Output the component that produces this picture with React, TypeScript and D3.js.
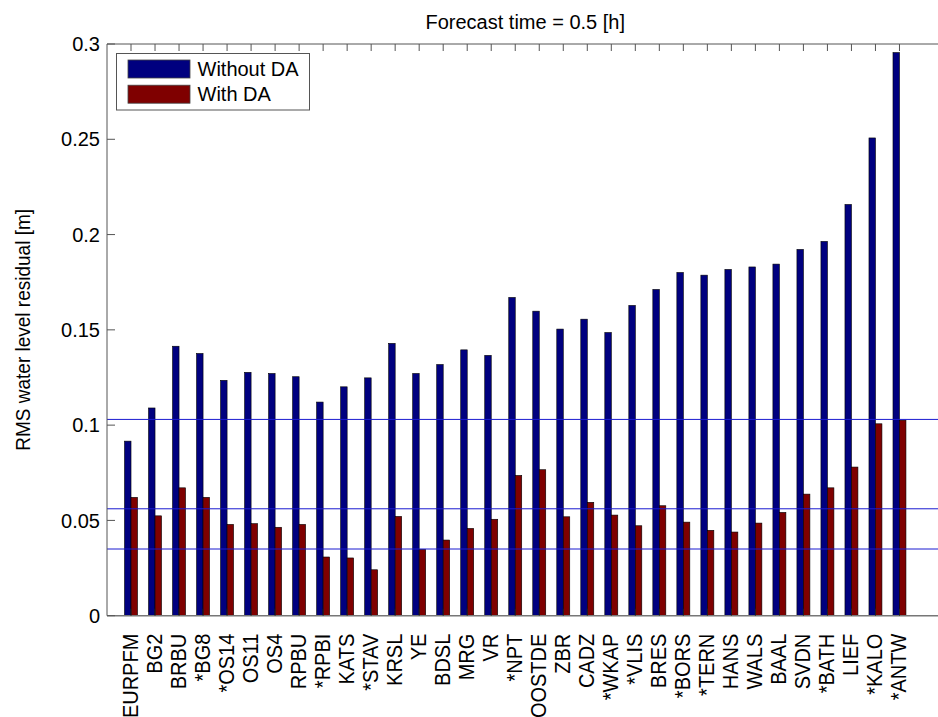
import React, { useEffect, useRef } from "react";
import * as d3 from "d3";

const stations = [
  "EURPFM", "BG2", "BRBU", "*BG8", "*OS14", "OS11", "OS4", "RPBU", "*RPBI", "KATS", "*STAV",
  "KRSL", "YE", "BDSL", "MRG", "VR", "*NPT", "OOSTDE", "ZBR", "CADZ", "*WKAP", "*VLIS",
  "BRES", "*BORS", "*TERN", "HANS", "WALS", "BAAL", "SVDN", "*BATH", "LIEF", "*KALO", "*ANTW",
];
const withoutDA = [
  0.0916, 0.109, 0.1414, 0.1376, 0.1235, 0.1277, 0.1271, 0.1254, 0.1121, 0.1201, 0.1248,
  0.1429, 0.1271, 0.1318, 0.1395, 0.1366, 0.167, 0.1598, 0.1504, 0.1556, 0.1486, 0.1628,
  0.1712, 0.1801, 0.1787, 0.1817, 0.183, 0.1845, 0.1922, 0.1964, 0.2158, 0.2507, 0.2955,
];
const withDA = [
  0.0621, 0.0524, 0.0671, 0.0621, 0.0479, 0.0483, 0.0464, 0.0479, 0.0308, 0.0303, 0.0241,
  0.0521, 0.0348, 0.0397, 0.0458, 0.0506, 0.0736, 0.0766, 0.0519, 0.0595, 0.0528, 0.0472,
  0.0577, 0.0491, 0.0448, 0.0439, 0.0486, 0.0542, 0.0638, 0.0671, 0.078, 0.1007, 0.1026,
];
const refLines = [0.103, 0.0561, 0.035];
const yTicks = [0, 0.05, 0.1, 0.15, 0.2, 0.25, 0.3];
const seriesNames = ["Without DA", "With DA"];
const seriesColors = ["#00007f", "#7f0000"];
const titleText = "Forecast time = 0.5 [h]";
const yLabel = "RMS water level residual [m]";

const W = 938;
const H = 717;

export default function App() {
  const ref = useRef<SVGSVGElement | null>(null);

  useEffect(() => {
    const svg = d3.select(ref.current);
    svg.selectAll("*").remove();
    const left = 107;
    const right = 947.5;
    const top = 44;
    const bottom = 615.7;
    const font = "Arial, 'Liberation Sans', sans-serif";

    const x = d3.scaleLinear().domain([0, 35]).range([left, right]);
    const y = d3.scaleLinear().domain([0, 0.3]).range([bottom, top]);
    const bw = x(0.27) - x(0);

    svg.append("rect").attr("x", 0).attr("y", 0).attr("width", W).attr("height", H).attr("fill", "#fff");

    const g = svg.append("g");

    // bars
    stations.forEach((s, i) => {
      const c = x(i + 1);
      g.append("rect")
        .attr("x", c - bw)
        .attr("y", y(withoutDA[i]))
        .attr("width", bw)
        .attr("height", y(0) - y(withoutDA[i]))
        .attr("fill", seriesColors[0])
        .attr("stroke", "#000")
        .attr("stroke-width", 0.6);
      g.append("rect")
        .attr("x", c)
        .attr("y", y(withDA[i]))
        .attr("width", bw)
        .attr("height", y(0) - y(withDA[i]))
        .attr("fill", seriesColors[1])
        .attr("stroke", "#000")
        .attr("stroke-width", 0.6);
    });

    // reference lines
    refLines.forEach((v) => {
      g.append("line")
        .attr("x1", left)
        .attr("x2", W)
        .attr("y1", y(v))
        .attr("y2", y(v))
        .attr("stroke", "#1a1ad0")
        .attr("stroke-width", 1);
    });

    // axes box
    g.append("line").attr("x1", left).attr("x2", W).attr("y1", top).attr("y2", top).attr("stroke", "#555").attr("stroke-width", 1);
    g.append("line").attr("x1", left).attr("x2", W).attr("y1", bottom).attr("y2", bottom).attr("stroke", "#777").attr("stroke-width", 1.6);
    g.append("line").attr("x1", left).attr("x2", left).attr("y1", top).attr("y2", bottom).attr("stroke", "#555").attr("stroke-width", 1);

    // x ticks (top & bottom, inward)
    stations.forEach((s, i) => {
      const c = x(i + 1);
      g.append("line").attr("x1", c).attr("x2", c).attr("y1", top).attr("y2", top + 7).attr("stroke", "#555");
      g.append("line").attr("x1", c).attr("x2", c).attr("y1", bottom).attr("y2", bottom - 7).attr("stroke", "#222");
      g.append("text")
        .attr("transform", `translate(${c + 6.5},${bottom + 18}) rotate(-90) scale(1,1.12)`)
        .attr("text-anchor", "end")
        .attr("font-family", font)
        .attr("font-size", 20)
        .attr("fill", "#000")
        .text(s);
    });

    // y ticks
    yTicks.forEach((v) => {
      g.append("line").attr("x1", left).attr("x2", left + 8).attr("y1", y(v)).attr("y2", y(v)).attr("stroke", "#555");
      g.append("text")
        .attr("x", left - 7)
        .attr("y", y(v))
        .attr("dy", "0.36em")
        .attr("text-anchor", "end")
        .attr("font-family", font)
        .attr("font-size", 20)
        .attr("fill", "#000")
        .text(String(v));
    });

    // title
    g.append("text")
      .attr("x", (left + right) / 2 - 2)
      .attr("y", 29)
      .attr("text-anchor", "middle")
      .attr("font-family", font)
      .attr("font-size", 20)
      .attr("fill", "#000")
      .text(titleText);

    // y label
    g.append("text")
      .attr("transform", `translate(30,${(top + bottom) / 2}) rotate(-90) scale(1,1.1)`)
      .attr("text-anchor", "middle")
      .attr("font-family", font)
      .attr("font-size", 19)
      .attr("fill", "#000")
      .text(yLabel);

    // legend
    const lg = g.append("g");
    lg.append("rect").attr("x", 116.5).attr("y", 53.5).attr("width", 193).attr("height", 56.5).attr("fill", "#fff").attr("stroke", "#555").attr("stroke-width", 1);
    seriesNames.forEach((n, i) => {
      const yy = 60 + i * 25.2;
      lg.append("rect").attr("x", 128).attr("y", yy).attr("width", 62).attr("height", 18).attr("fill", seriesColors[i]).attr("stroke", "#444").attr("stroke-width", 0.8);
      lg.append("text")
        .attr("x", 197.5)
        .attr("y", yy + 9)
        .attr("dy", "0.36em")
        .attr("font-family", font)
        .attr("font-size", 20)
        .attr("fill", "#000")
        .text(n);
    });
  }, []);

  return (
    <svg
      ref={ref}
      width={W}
      height={H}
      style={{ position: "absolute", left: 0, top: 0, display: "block" }}
    />
  );
}
